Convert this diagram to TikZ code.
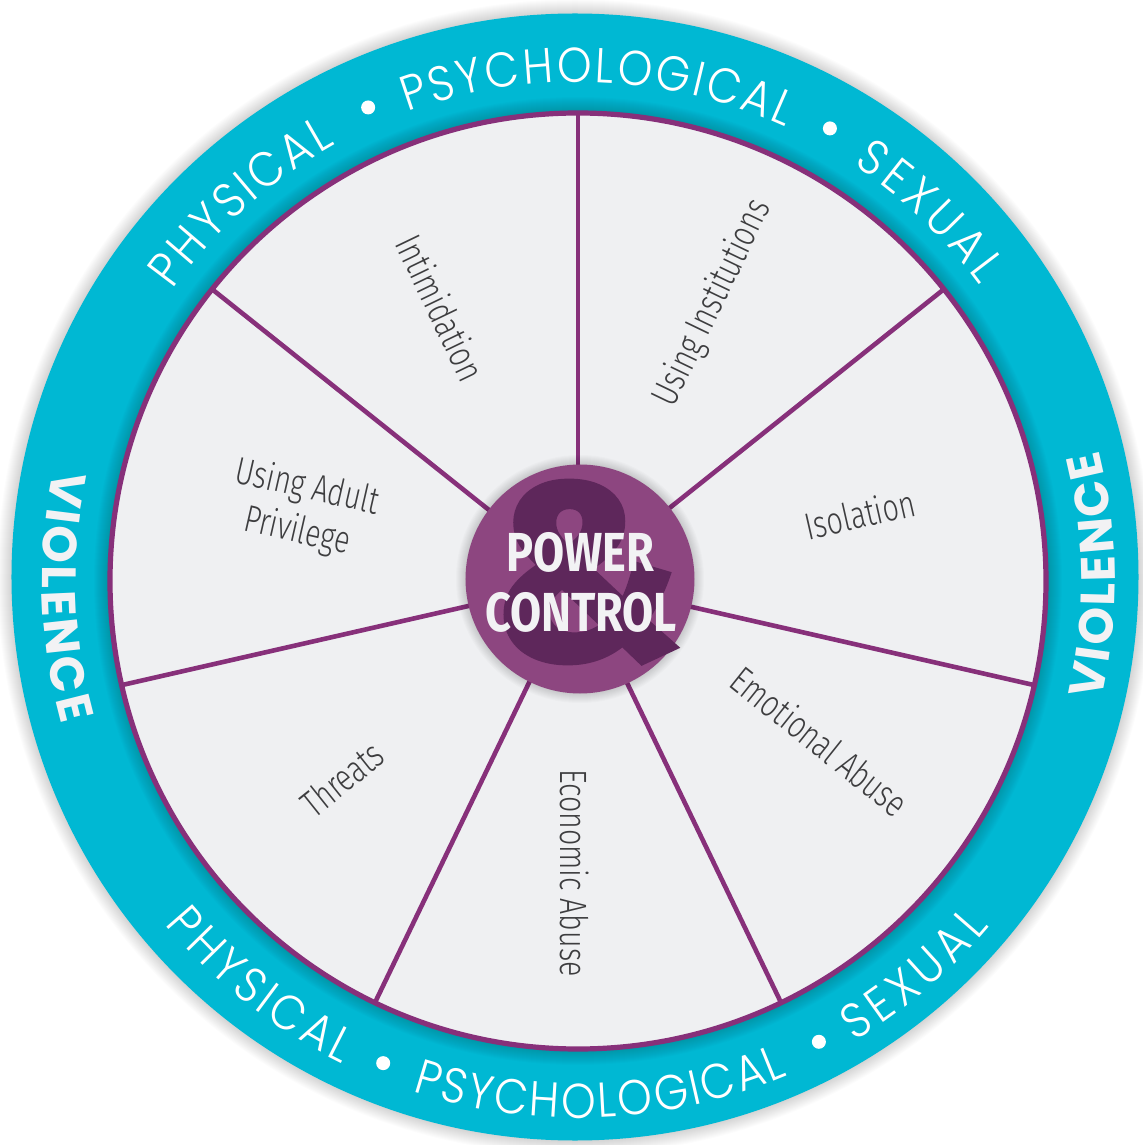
\documentclass[tikz,border=0pt]{standalone}
\usepackage{fontspec}
\usetikzlibrary{decorations.text}
\newfontfamily\lblfont{Fira Sans Light}[FakeStretch=0.75]
\newfontfamily\ctrfont{Fira Sans}[FakeStretch=0.82]
\newfontfamily\ampfont{Fira Sans}[FakeBold=2]
\newfontfamily\ringfont{Poppins Light}[FakeStretch=0.9]
\newfontfamily\violfont{Poppins}
\definecolor{teal}{RGB}{0,184,211}
\definecolor{disc}{RGB}{239,240,242}
\definecolor{spoke}{RGB}{135,48,122}
\definecolor{hub}{RGB}{141,70,128}
\definecolor{amp}{RGB}{94,39,91}
\definecolor{labeltext}{RGB}{61,61,63}
\definecolor{hubtext}{RGB}{242,242,244}
\newcommand\ringtxt{\ringfont\fontsize{24.5}{24.5}\selectfont\color{white}}
\newcommand\violtxt{\violfont\bfseries\fontsize{24}{24}\selectfont\color{hubtext}}
\newcommand\ringword[4]{%
  \path[decorate,decoration={text along path,text align={fit to path},text={|\ringtxt|#4}}]
    (#2:#1) arc[start angle=#2,end angle=#3,radius=#1];}
\newcommand\violword[3]{%
  \path[decorate,decoration={text along path,text align={fit to path},text={|\violtxt|VIOLENCE}}]
    (#2:#1) arc[start angle=#2,end angle=#3,radius=#1];}
\tikzset{
  seglabel/.style={font=\lblfont\fontsize{19}{22.5}\selectfont, text=labeltext, inner sep=0pt},
  hublabel/.style={font=\ctrfont\bfseries\fontsize{27.5}{27.5}\selectfont, text=hubtext, inner sep=0pt},
  spokeline/.style={draw=spoke, line width=2.3pt},
}
\begin{document}
\begin{tikzpicture}[x=0.5pt,y=0.5pt]
\useasboundingbox (-578,-564) rectangle (565,581);
\fill[white] (-578,-564) rectangle (565,581);
% outer drop shadow
\foreach \i in {1,...,14} \fill[black,opacity=0.012] (-3,4) circle ({563.5+\i});
% teal ring
\fill[teal] (-3,4) circle (563.5);
% inner shadow on ring
\foreach \i in {1,...,16} \fill[black,opacity=0.011] (0,0) circle ({468+\i});
% grey disc
\fill[disc] (0,0) circle (468);
% spokes
\coordinate (hubc) at (0,0);
\foreach \a [count=\k] in {90,38.571,-12.857,-64.286,-115.714,-167.143,141.429}
  \coordinate (rim\k) at (\a:468);
\foreach \k in {1,...,7} \path[spokeline] (hubc) -- (rim\k);
\draw[spoke, line width=2.6pt] (0,0) circle (468);
% hub shadow
\foreach \i in {1,...,10} \fill[black,opacity=0.015] (2,2) circle ({114+\i});
\fill[hub] (2,2) circle (114.5);
\node[inner sep=0pt, text=amp, font=\ampfont\bfseries\fontsize{125}{125}\selectfont] (ampnode) at (8,9) {\&};
\node[hublabel] (power) at (2,29) {POWER};
\node[hublabel] (control) at (3,-31) {CONTROL};
% segment labels
\node[seglabel, rotate=64.29] (inst) at (135,278) {Using Institutions};
\node[seglabel, rotate=12.86] (isol) at (282,67) {Isolation};
\node[seglabel, rotate=-38.57] (emot) at (242,-160) {Emotional Abuse};
\node[seglabel, rotate=-90] (econ) at (-3,-292) {Economic Abuse};
\node[seglabel, rotate=38.57] (threat) at (-236,-198) {Threats};
\node[seglabel, rotate=-12.86, align=center] (adult) at (-276,71) {Using Adult\\Privilege};
\node[seglabel, rotate=-64.29] (intim) at (-137,273) {Intimidation};
% ring texts top
\ringword{499}{144.3}{119}{PHYSICAL}
\ringword{499}{110}{65.5}{PSYCHOLOGICAL}
\ringword{499}{56.5}{36.3}{SEXUAL}
\fill[white] (113.9:518) circle (7);
\fill[white] (60.9:518) circle (7);
% ring texts bottom
\ringword{537}{-140.3}{-116}{PHYSICAL}
\ringword{537}{-108}{-67}{PSYCHOLOGICAL}
\ringword{537}{-59}{-40}{SEXUAL}
\fill[white] (-112:520) circle (7);
\fill[white] (-62.4:520) circle (7);
% violence
\violword{536}{168}{195.5}
\violword{537}{-12.8}{14.1}
\end{tikzpicture}
\end{document}
